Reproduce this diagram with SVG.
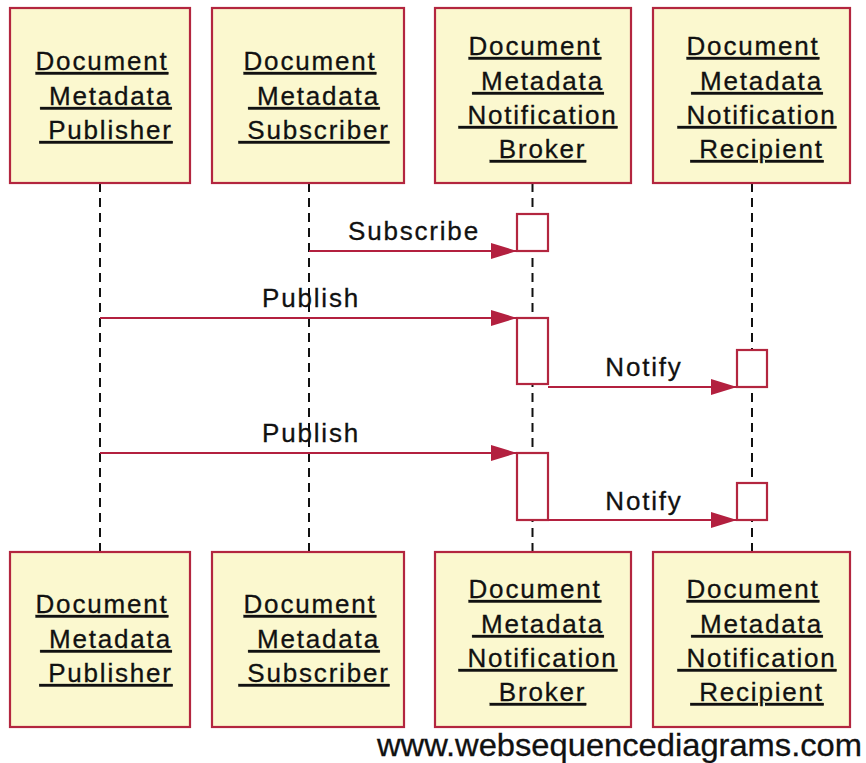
<svg xmlns="http://www.w3.org/2000/svg" width="866" height="763" viewBox="0 0 866 763">
<style>
.box{fill:#fbf8cf;stroke:#b3263f;stroke-width:2.2}
.act{fill:#ffffff;stroke:#b3263f;stroke-width:2.2}
.life{stroke:#111;stroke-width:2;stroke-dasharray:9 6;fill:none}
.msg{stroke:#b3203f;stroke-width:2;fill:none}
.t{font-family:"Liberation Sans",Arial,sans-serif;font-size:26px;fill:#111;stroke:#111;stroke-width:0.3;letter-spacing:1.8px;text-anchor:middle;white-space:pre}
.u{text-decoration:underline}
.foot{font-family:"Liberation Sans",Arial,sans-serif;font-size:32px;fill:#111;stroke:#111;stroke-width:0.3}
</style>
<defs>
<marker id="ah" markerUnits="userSpaceOnUse" markerWidth="27" markerHeight="17" refX="26" refY="8" orient="auto">
<path d="M0,0 L26,8 L0,16 z" fill="#b3203f"/>
</marker>
</defs>
<rect width="866" height="763" fill="#ffffff"/>
<g id="lifelines">
<line class="life" x1="100" y1="183" x2="100" y2="552"/>
<line class="life" x1="309" y1="183" x2="309" y2="552"/>
<line class="life" x1="532.5" y1="183" x2="532.5" y2="552"/>
<line class="life" x1="752" y1="183" x2="752" y2="552"/>
</g>
<g id="publisher">
<rect class="box" x="10" y="8" width="180" height="175"/>
<text class="t u" xml:space="preserve" x="102" y="70">Document</text>
<text class="t u" xml:space="preserve" x="106" y="105"> Metadata</text>
<text class="t u" xml:space="preserve" x="106" y="139"> Publisher</text>
<rect class="box" x="10" y="552" width="180" height="175"/>
<text class="t u" xml:space="preserve" x="102" y="613">Document</text>
<text class="t u" xml:space="preserve" x="106" y="648"> Metadata</text>
<text class="t u" xml:space="preserve" x="106" y="682"> Publisher</text>
</g>
<g id="subscriber">
<rect class="box" x="212" y="8" width="192" height="175"/>
<text class="t u" xml:space="preserve" x="310" y="70">Document</text>
<text class="t u" xml:space="preserve" x="314" y="105"> Metadata</text>
<text class="t u" xml:space="preserve" x="314" y="139"> Subscriber</text>
<rect class="box" x="212" y="552" width="192" height="175"/>
<text class="t u" xml:space="preserve" x="310" y="613">Document</text>
<text class="t u" xml:space="preserve" x="314" y="648"> Metadata</text>
<text class="t u" xml:space="preserve" x="314" y="682"> Subscriber</text>
</g>
<g id="broker">
<rect class="box" x="435" y="8" width="196" height="175"/>
<text class="t u" xml:space="preserve" x="535" y="55">Document</text>
<text class="t u" xml:space="preserve" x="538" y="90"> Metadata</text>
<text class="t u" xml:space="preserve" x="538" y="124"> Notification</text>
<text class="t u" xml:space="preserve" x="538" y="158"> Broker</text>
<rect class="box" x="435" y="552" width="196" height="175"/>
<text class="t u" xml:space="preserve" x="535" y="598">Document</text>
<text class="t u" xml:space="preserve" x="538" y="633"> Metadata</text>
<text class="t u" xml:space="preserve" x="538" y="667"> Notification</text>
<text class="t u" xml:space="preserve" x="538" y="701"> Broker</text>
</g>
<g id="recipient">
<rect class="box" x="653" y="8" width="197" height="175"/>
<text class="t u" xml:space="preserve" x="753" y="55">Document</text>
<text class="t u" xml:space="preserve" x="757" y="90"> Metadata</text>
<text class="t u" xml:space="preserve" x="757" y="124"> Notification</text>
<text class="t u" xml:space="preserve" x="757" y="158"> Recipient</text>
<rect class="box" x="653" y="552" width="197" height="175"/>
<text class="t u" xml:space="preserve" x="753" y="598">Document</text>
<text class="t u" xml:space="preserve" x="757" y="633"> Metadata</text>
<text class="t u" xml:space="preserve" x="757" y="667"> Notification</text>
<text class="t u" xml:space="preserve" x="757" y="701"> Recipient</text>
</g>
<g id="activations">
<rect class="act" x="517" y="214" width="31" height="37"/>
<rect class="act" x="517" y="318" width="31" height="66"/>
<rect class="act" x="517" y="453" width="31" height="67"/>
<rect class="act" x="737" y="350" width="30" height="37"/>
<rect class="act" x="737" y="483" width="30" height="37"/>
</g>
<g id="connectors">
<line class="msg" x1="309" y1="251" x2="517" y2="251" marker-end="url(#ah)"/>
<text class="t" x="414" y="240">Subscribe</text>
<line class="msg" x1="100" y1="318" x2="517" y2="318" marker-end="url(#ah)"/>
<text class="t" x="311" y="307">Publish</text>
<line class="msg" x1="548" y1="387" x2="737" y2="387" marker-end="url(#ah)"/>
<text class="t" x="644" y="376">Notify</text>
<line class="msg" x1="100" y1="453" x2="517" y2="453" marker-end="url(#ah)"/>
<text class="t" x="311" y="442">Publish</text>
<line class="msg" x1="548" y1="520" x2="737" y2="520" marker-end="url(#ah)"/>
<text class="t" x="644" y="510">Notify</text>
</g>
<text class="foot" x="377" y="756" textLength="485" lengthAdjust="spacingAndGlyphs">www.websequencediagrams.com</text>
</svg>
